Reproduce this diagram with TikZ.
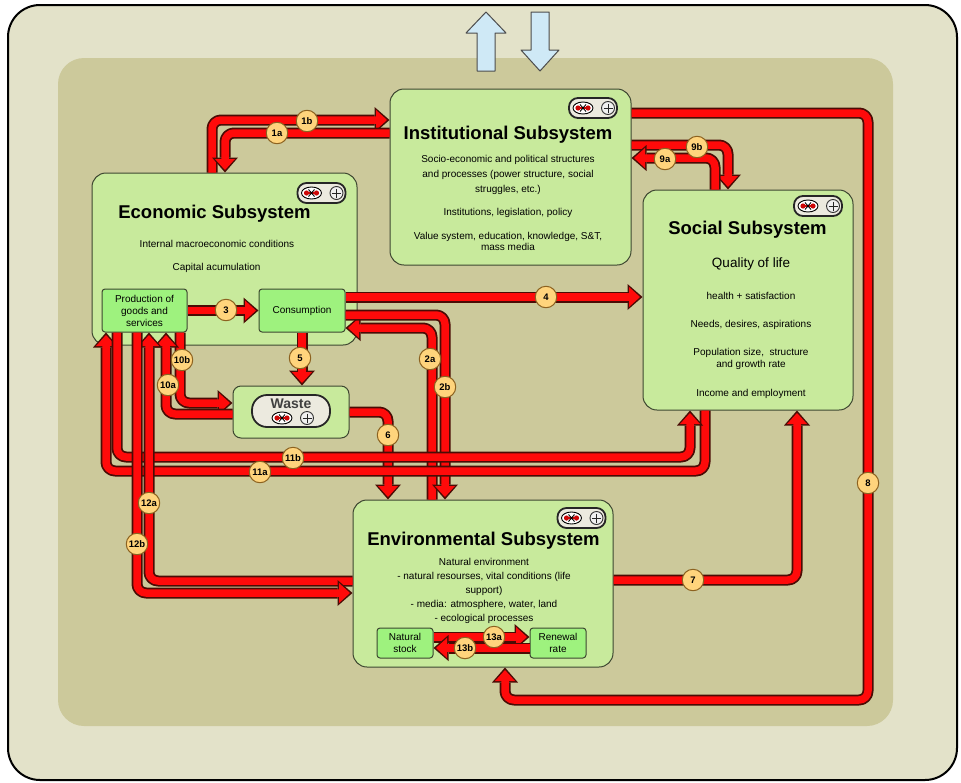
\documentclass[tikz,border=0pt]{standalone}
\usepackage{fontspec}
\setmainfont{Liberation Sans}
\usetikzlibrary{arrows.meta}

\tikzset{
  bigbox/.style={draw=boxedge,fill=boxgreen,line width=1pt,rounded corners=14pt,inner sep=0pt},
  subbox/.style={draw=boxedge,fill=subgreen,line width=1pt,rounded corners=3pt,inner sep=0pt,
    align=center,font=\fontsize{10}{12}\selectfont},
  systitle/.style={inner sep=0pt,font=\bfseries\fontsize{18.5}{22}\selectfont},
  bodytext/.style={inner sep=0pt,align=center,font=\fontsize{10}{15}\selectfont},
  flowouter/.style={draw=arrowdark,line width=11pt,rounded corners=9pt,
    -{Triangle[length=15pt,width=26pt,line width=0pt]}},
  flowinner/.style={draw=arrowred,line width=7.5pt,rounded corners=9pt,shorten >=2.5pt,
    -{Triangle[length=11pt,width=20pt,line width=0pt]}},
  tag/.style={circle,draw=tagedge,fill=tagfill,line width=1pt,minimum size=21.5pt,inner sep=0pt,
    font=\bfseries\fontsize{9.5}{9.5}\selectfont},
  switchicons/.pic={
    \draw[fill=white,draw=black,line width=0.9pt] (-10,0) ellipse [x radius=10,y radius=6];
    \draw[arrowred!80!black,line width=1.2pt] (-15,0) -- (-5,0);
    \fill[arrowred!80!black] (-15,0) circle [radius=2.6] (-5,0) circle [radius=2.6];
    \draw[black,line width=0.9pt] (-13,-3.5) -- (-7,3.5) (-13,3.5) -- (-7,-3.5);
    \draw[fill=gray!12,draw=gray!40!black,line width=0.9pt] (15,0) circle [radius=6.5];
    \draw[gray!30!black,line width=0.9pt] (10.5,0) -- (19.5,0) (15,-4.5) -- (15,4.5);
  },
  switch/.pic={
    \draw[fill=pillfill,draw=black!85,line width=1.8pt,rounded corners=9pt] (-24,-10) rectangle (24,10);
    \pic {switchicons};
  }
}

\newcommand{\flowline}[1]{\draw[flowouter] #1; \draw[flowinner] #1;}

\begin{document}
\begin{tikzpicture}[x=1pt,y=-1pt,line join=round]
\definecolor{framefill}{HTML}{E3E2C9}
\definecolor{framearea}{HTML}{CCC99B}
\definecolor{boxgreen}{HTML}{C8EA9C}
\definecolor{subgreen}{HTML}{9EF27E}
\definecolor{boxedge}{HTML}{3D4630}
\definecolor{arrowred}{HTML}{FF0A0A}
\definecolor{arrowdark}{HTML}{4A0C05}
\definecolor{tagfill}{HTML}{FFD47C}
\definecolor{tagedge}{HTML}{8C6220}
\definecolor{pillfill}{HTML}{ECEADF}
\definecolor{skyarrow}{HTML}{CFE9F6}

\useasboundingbox (0,0) rectangle (961,782);

% frame and inner area
\draw[fill=framefill,line width=2pt,rounded corners=32pt] (8,5) rectangle (957,780);
\fill[framearea,rounded corners=26pt] (58,58) rectangle (893,726);

% exchange with the outside
\filldraw[fill=skyarrow,draw=black!70,line width=1pt]
  (477,71) -- (477,33) -- (466,33) -- (486,12) -- (506,33) -- (495,33) -- (495,71) -- cycle;
\filldraw[fill=skyarrow,draw=black!70,line width=1pt]
  (531,12) -- (549,12) -- (549,50) -- (559,50) -- (540,71) -- (521,50) -- (531,50) -- cycle;

% subsystems
\node[bigbox,minimum width=241pt,minimum height=176pt] (inst) at (510.5,177) {};
\node[bigbox,minimum width=265pt,minimum height=172pt] (econ) at (224.5,259) {};
\node[bigbox,minimum width=210pt,minimum height=220pt] (soc) at (748,300) {};
\node[bigbox,minimum width=260pt,minimum height=167pt] (env) at (483,583.5) {};
\node[bigbox,rounded corners=8pt,minimum width=116pt,minimum height=52pt] (waste) at (291,412) {};

\node[subbox,minimum width=85pt,minimum height=43pt] (prod) at (144.5,310.5) {Production of\\goods and\\services};
\node[subbox,minimum width=86pt,minimum height=43pt] (cons) at (302,310.5) {Consumption};
\node[subbox,minimum width=56pt,minimum height=30pt] (stock) at (405,643) {Natural\\stock};
\node[subbox,minimum width=56pt,minimum height=30pt] (renew) at (558,643) {Renewal\\rate};

% texts
\node[systitle] (insttitle) at (508,135) {Institutional Subsystem};
\node[bodytext] (instdesc) at (508,175) {Socio-economic and political structures\\and processes (power structure, social\\struggles, etc.)};
\node[bodytext] (instlaw) at (508,213) {Institutions, legislation, policy};
\node[bodytext,font=\fontsize{10}{11.7}\selectfont] (instvalue) at (508,241.5) {Value system, education, knowledge, S\&T,\\mass media};

\node[systitle] (econtitle) at (214.5,214) {Economic Subsystem};
\node[bodytext] (econmacro) at (217,244) {Internal macroeconomic conditions};
\node[bodytext] (econcap) at (216.5,267.5) {Capital acumulation};

\node[systitle] (soctitle) at (747.5,230) {Social Subsystem};
\node[bodytext,font=\fontsize{13.5}{16}\selectfont] (socquality) at (751,264.5) {Quality of life};
\node[bodytext] (sochealth) at (751,296) {health + satisfaction};
\node[bodytext] (socneeds) at (751,325) {Needs, desires, aspirations};
\node[bodytext,font=\fontsize{10}{11.5}\selectfont] (socpop) at (751,359) {Population size,\ \ structure\\and growth rate};
\node[bodytext] (socincome) at (751,393.5) {Income and employment};

\node[systitle] (envtitle) at (483.5,541) {Environmental Subsystem};
\node[bodytext,font=\fontsize{10}{13.8}\selectfont] (envdesc) at (484,591) {Natural environment\\- natural resourses, vital conditions (life\\support)\\- media: atmosphere, water, land\\- ecological processes};

% flows
\flowline{(inst.east |- 0,113) -| (868,700) -| (env.south -| 505,0)}
\flowline{(econ.north -| 212,0) |- (inst.west |- 0,120)}
\flowline{(inst.west |- 0,133) -| (econ.north -| 225,0)}
\flowline{(inst.east |- 0,145) -| (soc.north -| 728,0)}
\flowline{(soc.north -| 715,0) |- (inst.east |- 0,158)}
\flowline{(cons.east |- 0,297) -- (soc.west |- 0,297)}
\flowline{(prod.east) -- (cons.west)}
\flowline{(cons.south) -- (cons.south |- waste.north)}
\flowline{(env.north -| 432,0) |- (cons.east |- 0,328)}
\flowline{(cons.east |- 0,315) -| (env.north -| 445,0)}
\flowline{(waste.east |- 0,412) -| (env.north -| 388,0)}
\flowline{(prod.south -| 180,0) |- (waste.west |- 0,403)}
\flowline{(waste.west |- 0,414) -| (prod.south -| 166,0)}
\flowline{(soc.south -| 705,0) |- (106,471) -- (prod.south -| 106,0)}
\flowline{(prod.south -| 117,0) |- (690,457) -- (soc.south -| 690,0)}
\flowline{(env.west |- 0,581) -| (prod.south -| 149,0)}
\flowline{(prod.south -| 137,0) |- (env.west |- 0,593)}
\flowline{(env.east |- 0,580) -| (soc.south -| 797,0)}
\flowline{(stock.east |- 0,637) -- (renew.west |- 0,637)}
\flowline{(renew.west |- 0,648) -- (stock.east |- 0,648)}

% flow numbers
\foreach \tagname/\x/\y in {1a/277/133,1b/307/121,9a/665/159,9b/697/147,3/226/310,4/546/297,
    5/300/358,2a/430/359,2b/445/387,6/388/435,10b/182/360,10a/168/385,11a/260/472,11b/293/458,
    12a/149/503,12b/137/544,7/693/580,8/868/483,13a/494/637,13b/465/648}
  \node[tag] (tag\tagname) at (\x,\y) {\tagname};

% switches
\pic at (593,108) {switch};
\pic at (321.5,193) {switch};
\pic at (818,206) {switch};
\pic at (581.5,518) {switch};
\draw[fill=pillfill,draw=black!85,line width=1.8pt,rounded corners=15pt] (252,395) rectangle (330,427);
\node[inner sep=0pt,font=\bfseries\fontsize{14}{14}\selectfont,text=black!75] (wastetitle) at (291,404) {Waste};
\pic at (292,418) {switchicons};
\end{tikzpicture}
\end{document}
